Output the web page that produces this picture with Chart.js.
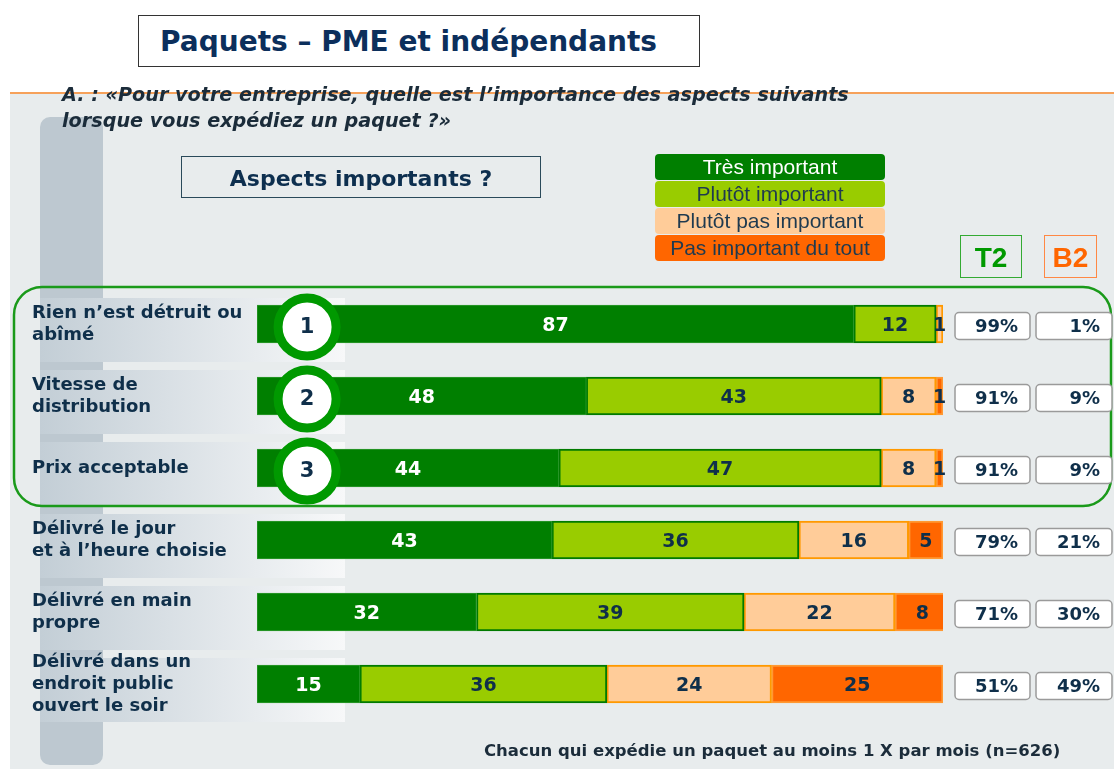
<!DOCTYPE html>
<html lang="fr">
<head>
<meta charset="utf-8">
<script src="https://cdn.jsdelivr.net/npm/chart.js@4.4.1/dist/chart.umd.min.js"></script>
<style>
  body { margin: 0; background: #fff; font-family: Arial, "Liberation Sans", sans-serif; }
  #wrap { position: relative; width: 1114px; height: 769px; overflow: hidden; }
  .abs { position: absolute; }
  .dv { font-family: "DejaVu Sans", Verdana, sans-serif; }
  #panel { left: 10px; top: 93px; width: 1104px; height: 676px; background: #e8eced; }
  #rule { left: 10px; top: 92px; width: 1104px; height: 2px; background: #f6a15a; }
  #column { left: 40px; top: 117px; width: 63px; height: 648px; border-radius: 10px; background: #bdc8d0; }
  #chart { left: 0; top: 0; }
  #title { left: 138px; top: 15px; width: 539px; height: 50px; border: 1.5px solid #333; background: #fff;
           font-weight: bold; font-size: 28px; color: #0c2f5c; line-height: 52px; padding-left: 21px; }
  #question { left: 62px; top: 82px; font-weight: bold; font-style: italic; font-size: 19.2px; color: #1b2c3a; line-height: 26px; }
  #aspects { left: 181px; top: 156px; width: 358px; height: 40px; border: 1.5px solid #2a4a5a;
             font-weight: bold; font-size: 22px; color: #0d2f4f; text-align: center; line-height: 44px; }
  #legend { left: 655px; top: 154px; width: 230px; }
  #legend div { height: 26px; line-height: 26px; border-radius: 4px; text-align: center; font-size: 21px; color: #1f3a4f; margin-bottom: 1px; }
  .hdr { top: 235px; height: 41px; line-height: 43px; text-align: center; font-weight: bold; font-size: 28px; }
  #t2 { left: 960px; width: 60px; border: 1.5px solid #33aa33; color: #009900; }
  #b2 { left: 1044px; width: 51px; border: 1.5px solid #ff8844; color: #ff6600; }
  #note { left: 484px; top: 741px; font-weight: bold; font-size: 16.5px; color: #1b2c3a; }
</style>
</head>
<body>
<div id="wrap">
  <div id="panel" class="abs"></div>
  <div id="rule" class="abs"></div>
  <div id="column" class="abs"></div>
  <canvas id="chart" class="abs" width="1114" height="769"></canvas>
  <div id="title" class="abs dv">Paquets – PME et indépendants</div>
  <div id="question" class="abs dv">A. : «Pour votre entreprise, quelle est l’importance des aspects suivants<br>lorsque vous expédiez un paquet ?»</div>
  <div id="aspects" class="abs dv">Aspects importants ?</div>
  <div id="legend" class="abs"></div>
  <div id="t2" class="abs hdr">T2</div>
  <div id="b2" class="abs hdr">B2</div>
  <div id="note" class="abs dv">Chacun qui expédie un paquet au moins 1 X par mois (n=626)</div>
</div>

<script>
// ── DATA ──────────────────────────────────────────────────────────────────────
const categories = [
  ['Rien n’est détruit ou', 'abîmé'],
  ['Vitesse de', 'distribution'],
  ['Prix acceptable'],
  ['Délivré le jour', 'et à l’heure choisie'],
  ['Délivré en main', 'propre'],
  ['Délivré dans un', 'endroit public', 'ouvert le soir']
];
const seriesNames     = ['Très important', 'Plutôt important', 'Plutôt pas important', 'Pas important du tout'];
const tresImportant   = [87, 48, 44, 43, 32, 15];
const plutotImportant = [12, 43, 47, 36, 39, 36];
const plutotPas       = [1, 8, 8, 16, 22, 24];
const pasDuTout       = [0, 1, 1, 5, 8, 25];
const t2Values        = [99, 91, 91, 79, 71, 51];
const b2Values        = [1, 9, 9, 21, 30, 49];
const ranks           = ['1', '2', '3'];

const fills   = ['#007f00', '#99cc00', '#ffcc99', '#ff6600'];
const borders = ['#2f9a2f', '#007a00', '#ff9900', '#ff9933'];
const labelColors = ['#ffffff', '#0f2f4a', '#0f2f4a', '#0f2f4a'];
const ink = '#0f2f4a';
const DV = '"DejaVu Sans", Verdana, sans-serif';

// Legend (HTML)
const lg = document.getElementById('legend');
seriesNames.forEach((n, i) => {
  const d = document.createElement('div');
  d.textContent = n;
  d.style.background = fills[i];
  if (i === 0) d.style.color = '#fff';
  lg.appendChild(d);
});

function roundRect(ctx, x, y, w, h, r) {
  ctx.beginPath();
  ctx.moveTo(x + r, y);
  ctx.arcTo(x + w, y, x + w, y + h, r);
  ctx.arcTo(x + w, y + h, x, y + h, r);
  ctx.arcTo(x, y + h, x, y, r);
  ctx.arcTo(x, y, x + w, y, r);
  ctx.closePath();
}

// ── PLUGINS ───────────────────────────────────────────────────────────────────
const decor = {
  id: 'decor',
  beforeDatasetsDraw(chart) {
    const { ctx, scales: { y } } = chart;
    ctx.save();
    // label stripes
    categories.forEach((_, i) => {
      const cy = y.getPixelForValue(i);
      const g = ctx.createLinearGradient(40, 0, 345, 0);
      g.addColorStop(0, '#c3ced6');
      g.addColorStop(1, '#f7f8f9');
      ctx.fillStyle = g;
      ctx.fillRect(40, cy - 26, 305, 64);
    });
    // top-3 frame
    const top = y.getPixelForValue(0) - 37, bot = y.getPixelForValue(2) + 38;
    roundRect(ctx, 14, top, 1097, bot - top, 28);
    ctx.strokeStyle = '#1a9a1a';
    ctx.lineWidth = 2.5;
    ctx.stroke();
    // category labels
    ctx.fillStyle = ink;
    ctx.font = 'bold 18px ' + DV;
    ctx.textBaseline = 'middle';
    categories.forEach((lines, i) => {
      const cy = y.getPixelForValue(i);
      const lh = 22;
      lines.forEach((t, k) => {
        ctx.fillText(t, 32, cy + (k - (lines.length - 1) / 2) * lh);
      });
    });
    ctx.restore();
  },
  afterDatasetsDraw(chart) {
    const { ctx, scales: { x, y } } = chart;
    ctx.save();
    // segment values
    ctx.font = 'bold 19px ' + DV;
    ctx.textAlign = 'center';
    ctx.textBaseline = 'middle';
    chart.data.datasets.forEach((ds, di) => {
      chart.getDatasetMeta(di).data.forEach((el, i) => {
        const v = ds.data[i];
        if (!v) return;
        ctx.fillStyle = labelColors[di];
        ctx.fillText(String(v), (el.x + el.base) / 2, el.y + 2);
      });
    });
    // rank circles
    ranks.forEach((r, i) => {
      const cy = y.getPixelForValue(i) + 3;
      const cx = x.getPixelForValue(7.3);
      ctx.beginPath();
      ctx.arc(cx, cy, 29, 0, Math.PI * 2);
      ctx.fillStyle = '#fff';
      ctx.fill();
      ctx.lineWidth = 9;
      ctx.strokeStyle = '#009900';
      ctx.stroke();
      ctx.fillStyle = ink;
      ctx.font = 'bold 21px ' + DV;
      ctx.fillText(r, cx, cy + 1);
    });
    // T2 / B2 boxes
    ctx.font = 'bold 18px ' + DV;
    ctx.textAlign = 'right';
    categories.forEach((_, i) => {
      const cy = y.getPixelForValue(i) + 2;
      [[955, 75, t2Values[i]], [1036, 76, b2Values[i]]].forEach(([bx, bw, v]) => {
        roundRect(ctx, bx, cy - 13.5, bw, 27, 4);
        ctx.fillStyle = '#fff';
        ctx.fill();
        ctx.lineWidth = 1.5;
        ctx.strokeStyle = '#9a9a9a';
        ctx.stroke();
        ctx.fillStyle = ink;
        ctx.fillText(v + '%', bx + bw - 12, cy + 1);
      });
    });
    ctx.restore();
  }
};

// ── CHART ─────────────────────────────────────────────────────────────────────
const series = [tresImportant, plutotImportant, plutotPas, pasDuTout];
new Chart(document.getElementById('chart'), {
  type: 'bar',
  data: {
    labels: categories.map(c => c.join(' ')),
    datasets: series.map((d, i) => ({
      label: seriesNames[i],
      data: d,
      backgroundColor: fills[i],
      borderColor: borders[i],
      borderWidth: i === 0 ? 1 : 2,
      borderSkipped: false,
      barThickness: 38
    }))
  },
  options: {
    indexAxis: 'y',
    responsive: false,
    animation: false,
    layout: { padding: { left: 257, right: 171, top: 288, bottom: 49 } },
    plugins: { legend: { display: false }, tooltip: { enabled: false } },
    scales: {
      x: { stacked: true, min: 0, max: 100, display: false },
      y: { stacked: true, display: false }
    }
  },
  plugins: [decor]
});
</script>
</body>
</html>
